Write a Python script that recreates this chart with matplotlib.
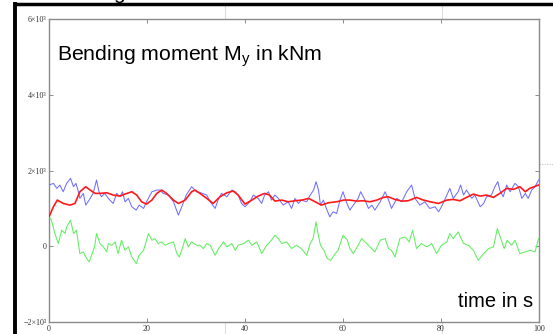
import matplotlib
matplotlib.use("Agg")
import matplotlib.pyplot as plt
from matplotlib.lines import Line2D

# ---------------- data ----------------
blue_t = [0, 0.9, 1.6, 2.2, 2.9, 3.6, 4.4, 5, 5.5, 6, 6.3, 7, 7.5, 8.2, 9, 9.7, 10.2, 10.7, 11.4, 12.1,
          13.1, 13.8, 14.5, 15, 15.5, 16.2, 16.9, 17.8, 18.4, 19.3, 19.9, 21, 22, 22.7, 23.3, 24.4, 25.4,
          26.4, 27.1, 28, 29.1, 30.1, 30.8, 32.2, 32.9, 33.9, 34.5, 35.2, 36.3, 37.3, 38.0, 38.6, 39.3,
          40, 41, 41.7, 42.7, 43.4, 44, 44.8, 45.4, 46.1, 46.8, 47.8, 48.8, 49.5, 50.2, 50.9, 51.5, 52.6,
          53.3, 54.0, 54.5, 55.0, 55.4, 56.0, 56.6, 57.3, 58.0, 58.7, 59.4, 60, 60.8, 61.4, 62.1, 63.1,
          63.6, 64.5, 65.2, 65.9, 66.5, 67.6, 68.6, 69.3, 69.9, 71, 72, 73, 74, 74.7, 75.7, 76.7, 77.7,
          78.8, 79.5, 80.1, 81.2, 81.8, 82.5, 83.5, 84, 84.6, 85.2, 86.3, 86.9, 88, 88.7, 89.3, 90.3, 91,
          91.6, 92.0, 92.7, 93.4, 94.1, 95.1, 95.8, 96.5, 97.2, 97.8, 98.5, 99.2, 99.9]
blue_v = [1616, 1660, 1528, 1616, 1439, 1660, 1793, 1572, 1660, 1439, 1263, 1395, 1086, 1219, 1395, 1748,
          1439, 1307, 1395, 1263, 1130, 1395, 1307, 1439, 1174, 1263, 1042, 954, 1086, 998, 1174, 1439,
          1483, 1483, 1395, 1351, 1174, 821, 1042, 1351, 1572, 1439, 1420, 1351, 1174, 998, 1219, 1395,
          1307, 1483, 1439, 1351, 1130, 1042, 1174, 1351, 1263, 1130, 1351, 1439, 1219, 1351, 1263, 1086,
          1174, 998, 1263, 1130, 1219, 1174, 1351, 1483, 1704, 1483, 1086, 1219, 998, 777, 910, 865, 1219,
          1439, 1130, 954, 1086, 1263, 1439, 1219, 998, 1086, 954, 1174, 1439, 1219, 998, 1263, 1174, 1439,
          1616, 1263, 1086, 1174, 998, 1042, 910, 1042, 1351, 1528, 1263, 1439, 1616, 1351, 1483, 1263,
          1351, 1042, 1130, 1307, 1351, 1572, 1704, 1483, 1307, 1616, 1439, 1660, 1572, 1263, 1395, 1263,
          1483, 1572, 1748]

red_t = [0, 0.9, 1.7, 2.9, 4.3, 5.3, 6.3, 7.5, 8.4, 9.4, 10.4, 11.8, 13.1, 14.5, 15.5, 16.9, 17.9, 18.9,
         19.9, 21, 22, 23, 24, 25.4, 26.4, 27.8, 29.1, 29.8, 30.8, 32.2, 33.5, 34.9, 36.3, 37.6, 38.6, 40,
         41.4, 42.7, 44, 45, 46.1, 47.5, 48.8, 50.2, 51.6, 53, 54.3, 55.6, 57, 58.7, 60.1, 61.4, 62.8, 64.1,
         65.5, 66.9, 68.2, 69.2, 70.6, 72, 73.3, 75, 76.4, 77.8, 79.5, 81.2, 82.5, 83.9, 85.2, 86.6, 88,
         89.3, 90.7, 92, 93.4, 94.8, 96.1, 97.2, 98.1, 99.9]
red_v = [777, 1042, 1219, 1130, 1086, 1130, 1439, 1572, 1483, 1395, 1395, 1413, 1351, 1325, 1377, 1439,
         1351, 1174, 1113, 1219, 1395, 1483, 1395, 1219, 1130, 1219, 1439, 1483, 1395, 1263, 1130, 1307,
         1413, 1457, 1351, 1113, 1219, 1325, 1395, 1351, 1192, 1219, 1174, 1201, 1219, 1263, 1174, 1086,
         1148, 1174, 1219, 1219, 1192, 1201, 1174, 1219, 1289, 1307, 1236, 1192, 1201, 1289, 1219, 1174,
         1130, 1219, 1236, 1201, 1289, 1377, 1325, 1351, 1289, 1395, 1528, 1501, 1572, 1439, 1528, 1616]

green_t = [0, 0.5, 1.2, 1.9, 2.6, 3.3, 3.6, 4.4, 5.0, 5.6, 6.3, 7.0, 7.5, 8.2, 8.7, 9.3, 9.7, 10.4, 11.1,
           11.8, 12.1, 12.8, 13.5, 14.1, 14.8, 15.5, 16.2, 16.9, 17.8, 18.4, 19.3, 20.3, 21, 21.6, 22.3, 23,
           23.7, 24.4, 25.4, 26.1, 26.6, 27.3, 27.8, 28.4, 29.1, 30.1, 30.8, 31.5, 32.2, 32.9, 33.9, 34.6,
           35.6, 36.3, 37.3, 38.0, 38.6, 39.7, 40.7, 41.4, 42.4, 43.4, 44.4, 45.4, 46.1, 46.8, 47.5, 48.5,
           49.5, 50.5, 51.5, 52.6, 53.3, 53.9, 54.5, 54.9, 55.4, 56.1, 56.8, 57.5, 58.4, 59, 60, 60.9, 61.4,
           62.1, 63.1, 63.8, 64.5, 65.5, 66.5, 67.6, 68.6, 69.3, 69.9, 70.6, 71.6, 72.7, 73.5, 74.2, 75, 76,
           77.1, 78.1, 79.1, 80.1, 81.2, 81.8, 82.5, 83.5, 84.6, 85.6, 86.6, 87.6, 88.7, 89.7, 90.7, 91.5,
           92.2, 92.9, 93.5, 94.4, 95.1, 96.1, 97.2, 98.2, 99.2, 99.9]
green_v = [777, 689, 336, 71, 424, 336, 512, 689, 336, 424, -194, -150, -283, -415, -238, -18, 336, 71, -18,
           -150, 71, 26, 115, -194, 159, -106, -18, -283, -459, -238, -106, 336, 159, 203, 71, 115, 26, 71,
           115, -194, -283, -18, 203, -18, 115, 26, 26, -62, 71, 26, -238, -62, 115, -18, 71, -106, 26, 71,
           159, 26, 115, -194, 26, 159, 291, 203, 71, 115, -62, 26, -62, -238, 71, 203, 645, 336, 26, -106,
           -327, -371, -194, -106, 291, 159, -62, -194, 26, 203, 115, -18, -150, 159, 203, -62, -106, -283,
           203, 247, 115, 424, -62, 71, -18, 71, -194, 26, 115, 336, 203, 380, 71, 26, -106, -371, -194,
           -62, -18, 468, 203, -62, 159, 26, 159, -194, -150, -106, -150, 203]

x_ticks = [0, 20, 40, 60, 80, 100]
x_tick_labels = ["0", "20", "40", "60", "80", "100"]
y_ticks = [-2000, 0, 2000, 4000, 6000]
y_tick_labels = ["\u22122\u00d710\u00b3", "0", "2\u00d710\u00b3", "4\u00d710\u00b3", "6\u00d710\u00b3"]

# ---------------- figure ----------------
W, H = 553, 334
fig = plt.figure(figsize=(W / 100, H / 100), dpi=100)
fig.patch.set_facecolor("white")

ax = fig.add_axes([49 / W, 12 / H, 490 / W, 303 / H])
ax.set_xlim(0, 100)
ax.set_ylim(-2000, 6000)

ax.plot(blue_t, blue_v, color="#6f6fff", lw=0.75, zorder=3)
ax.plot(green_t, green_v, color="#5fef5f", lw=0.75, zorder=3)
ax.plot(red_t, red_v, color="#ff1a1a", lw=1.2, zorder=4)

for s in ax.spines.values():
    s.set_color("#8a8a8a")
    s.set_linewidth(1.0)

ax.set_xticks(x_ticks)
ax.set_xticklabels(x_tick_labels)
ax.set_yticks(y_ticks)
ax.set_yticklabels(y_tick_labels)
ax.tick_params(direction="in", length=3, width=0.7, color="#8a8a8a",
               top=True, right=True, labelsize=5.8, pad=2)
for lab in ax.get_xticklabels() + ax.get_yticklabels():
    lab.set_family(["Liberation Serif", "DejaVu Serif"])
    lab.set_color("#333333")

ax.text(8 / 490, 1 - 41 / 303, "Bending moment M$_\\mathregular{y}$ in kNm",
        transform=ax.transAxes, fontsize=15.3, family="Liberation Sans",
        ha="left", va="baseline", color="black")
ax.text(1 - 6 / 490, 15 / 303, "time in s", transform=ax.transAxes,
        fontsize=14.5, family="Liberation Sans", ha="right", va="baseline", color="black")

# page decorations visible in the screenshot
fig.add_artist(Line2D([15 / W, 1], [1 - 4 / H, 1 - 4 / H], color="black", lw=2.5,
                      transform=fig.transFigure))
fig.add_artist(Line2D([15 / W, 15 / W], [0, 1 - 4 / H], color="black", lw=2.8,
                      transform=fig.transFigure))
for xp in (224.5, 442):
    fig.add_artist(Line2D([xp / W, xp / W], [0, 1 - 6 / H], color="#dddddd", lw=0.8,
                          transform=fig.transFigure, zorder=0))
fig.add_artist(Line2D([49 / W, 1], [1 - 164 / H, 1 - 164 / H], color="#bbbbbb", lw=0.6,
                      ls=(0, (1.5, 1.5)), transform=fig.transFigure, zorder=0))
fig.text(113 / W, 1 + 1 / H, "g", fontsize=15, family="Liberation Sans",
         ha="left", va="baseline")

fig.savefig("out.png", dpi=100)
